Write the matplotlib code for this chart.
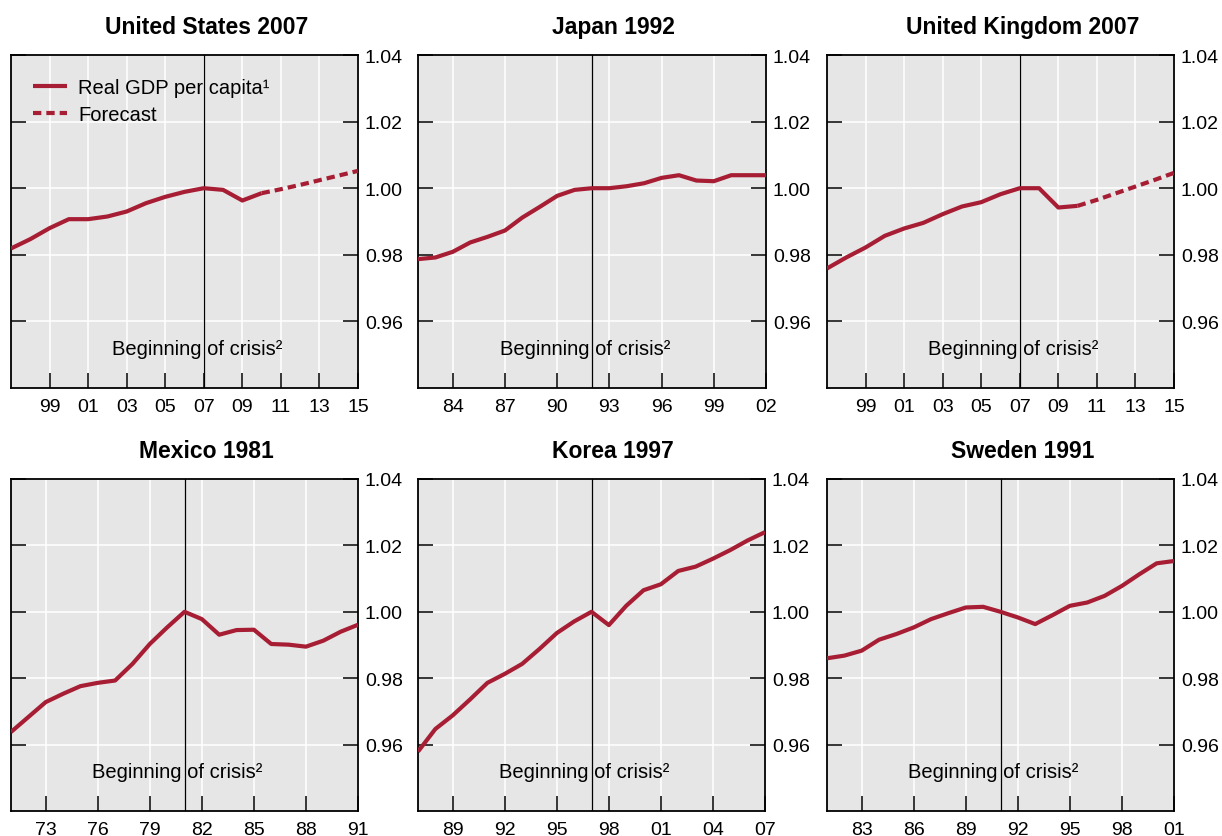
import matplotlib
matplotlib.use("Agg")
import matplotlib.pyplot as plt
from matplotlib.ticker import FixedLocator, FuncFormatter
from matplotlib.transforms import offset_copy

plt.rcParams["font.family"] = ["Liberation Sans", "DejaVu Sans"]

RED = "#a71e34"
BG = "#e6e6e6"

# Real GDP per capita, indexed to 1.00 in the crisis year
us_years = list(range(1997, 2011))
us_gdp = [0.9819, 0.9847, 0.9880, 0.9907, 0.9907, 0.9915, 0.9930, 0.9955,
          0.9974, 0.9989, 1.0000, 0.9995, 0.9963, 0.9985]
us_fc_years = list(range(2010, 2016))
us_fc = [0.9985, 0.9997, 1.0010, 1.0024, 1.0038, 1.0052]

jp_years = list(range(1982, 2003))
jp_gdp = [0.9787, 0.9792, 0.9809, 0.9837, 0.9854, 0.9873, 0.9912, 0.9944,
          0.9977, 0.9995, 1.0000, 1.0000, 1.0006, 1.0015, 1.0031, 1.0039,
          1.0023, 1.0021, 1.0039, 1.0039, 1.0039]

uk_years = list(range(1997, 2011))
uk_gdp = [0.9759, 0.9792, 0.9822, 0.9857, 0.9879, 0.9896, 0.9922, 0.9945,
          0.9958, 0.9982, 1.0000, 1.0000, 0.9942, 0.9947]
uk_fc_years = list(range(2010, 2016))
uk_fc = [0.9947, 0.9965, 0.9985, 1.0005, 1.0025, 1.0046]

mx_years = list(range(1971, 1992))
mx_gdp = [0.9638, 0.9683, 0.9728, 0.9753, 0.9776, 0.9786, 0.9793, 0.9843,
          0.9903, 0.9953, 1.0000, 0.9978, 0.9931, 0.9945, 0.9946, 0.9903,
          0.9901, 0.9895, 0.9913, 0.9940, 0.9961]

kr_years = list(range(1987, 2008))
kr_gdp = [0.9579, 0.9647, 0.9688, 0.9736, 0.9786, 0.9813, 0.9843, 0.9888,
          0.9936, 0.9971, 1.0000, 0.9960, 1.0018, 1.0065, 1.0083, 1.0123,
          1.0136, 1.0160, 1.0186, 1.0215, 1.0240]

se_years = list(range(1981, 2002))
se_gdp = [0.9860, 0.9868, 0.9883, 0.9916, 0.9933, 0.9953, 0.9978, 0.9996,
          1.0013, 1.0015, 1.0000, 0.9983, 0.9963, 0.9990, 1.0018, 1.0028,
          1.0048, 1.0078, 1.0113, 1.0146, 1.0153]

y_ticks = [0.96, 0.98, 1.00, 1.02, 1.04]

panels = [
    dict(title="United States 2007", crisis=2007, xlim=(1997, 2015),
         xticks=list(range(1999, 2016, 2)), years=us_years, gdp=us_gdp,
         fc_years=us_fc_years, fc=us_fc, legend=True),
    dict(title="Japan 1992", crisis=1992, xlim=(1982, 2002),
         xticks=list(range(1984, 2003, 3)), years=jp_years, gdp=jp_gdp),
    dict(title="United Kingdom 2007", crisis=2007, xlim=(1997, 2015),
         xticks=list(range(1999, 2016, 2)), years=uk_years, gdp=uk_gdp,
         fc_years=uk_fc_years, fc=uk_fc),
    dict(title="Mexico 1981", crisis=1981, xlim=(1971, 1991),
         xticks=list(range(1973, 1992, 3)), years=mx_years, gdp=mx_gdp),
    dict(title="Korea 1997", crisis=1997, xlim=(1987, 2007),
         xticks=list(range(1989, 2008, 3)), years=kr_years, gdp=kr_gdp),
    dict(title="Sweden 1991", crisis=1991, xlim=(1981, 2001),
         xticks=list(range(1983, 2002, 3)), years=se_years, gdp=se_gdp),
]

W, H = 1222, 837
fig = plt.figure(figsize=(W / 100, H / 100), dpi=100)

# axes boxes in pixels: (left, top, right, bottom)
boxes = [
    (11, 56, 358, 389), (418, 56, 766, 389), (827, 56, 1174, 389),
    (11, 480, 358, 812), (418, 480, 765, 812), (827, 480, 1174, 812),
]

for p, (l, t, r, b) in zip(panels, boxes):
    ax = fig.add_axes([l / W, 1 - b / H, (r - l) / W, (b - t) / H])
    ax.set_facecolor(BG)
    ax.set_xlim(*p["xlim"])
    ax.set_ylim(0.94, 1.04)

    ax.xaxis.set_major_locator(FixedLocator(p["xticks"]))
    ax.xaxis.set_major_formatter(FuncFormatter(lambda v, pos: f"{int(round(v)) % 100:02d}"))
    ax.yaxis.set_major_locator(FixedLocator(y_ticks))
    ax.yaxis.set_major_formatter(FuncFormatter(lambda v, pos: f"{v:.2f}"))

    ax.grid(True, color="white", linewidth=1.1)
    ax.set_axisbelow(True)

    ax.tick_params(axis="x", direction="in", length=10.5, width=1.1,
                   labelsize=14, pad=7, bottom=True, top=False)
    ax.tick_params(axis="y", direction="in", length=10.5, width=1.1,
                   labelsize=14, pad=5, left=True, right=True,
                   labelleft=False, labelright=True)
    for s in ax.spines.values():
        s.set_linewidth(1.3)
        s.set_color("black")

    ax.axvline(p["crisis"], color="black", linewidth=0.9, zorder=3)

    h1, = ax.plot(p["years"], p["gdp"], color=RED, linewidth=3.0,
                  solid_capstyle="butt", solid_joinstyle="round", zorder=4,
                  label="Real GDP per capita¹")
    if "fc" in p:
        h2, = ax.plot(p["fc_years"], p["fc"], color=RED, linewidth=3.0,
                      linestyle=(0, (2.0, 1.2)), zorder=4, label="Forecast")
        if p.get("legend"):
            ax.legend(handles=[h1, h2], loc="upper left",
                      bbox_to_anchor=(0.063, 0.93), frameon=False,
                      fontsize=14.5, borderpad=0, borderaxespad=0,
                      handlelength=1.7, handletextpad=0.55, labelspacing=0.36)

    tr = offset_copy(ax.transData, fig=fig, x=-7, y=0, units="dots")
    ax.text(p["crisis"], 0.952, "Beginning of crisis²", transform=tr,
            ha="center", va="center", fontsize=14.5, zorder=5)

    # title centred over the plot plus its right-hand value labels
    ax.set_title(p["title"], fontsize=16.5, fontweight="bold", pad=16,
                 x=0.563, ha="center")

fig.savefig("out.png", dpi=100)
